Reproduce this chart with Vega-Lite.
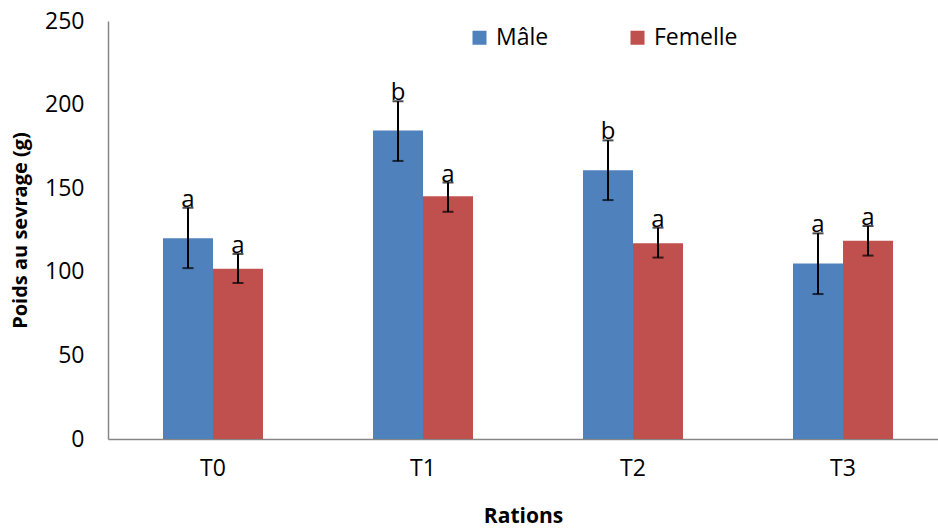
{
  "$schema": "https://vega.github.io/schema/vega-lite/v6.json",
  "width": 830,
  "height": 418,
  "autosize": {"type": "none"},
  "padding": {"left": 108, "top": 21, "right": 0, "bottom": 89},
  "config": {
    "font": "Open Sans",
    "view": {"stroke": null},
    "axis": {"domainColor": "#868686", "domainWidth": 1.5, "ticks": false, "grid": false, "labelColor": "#000000", "titleColor": "#000000", "labelFont": "Open Sans", "titleFont": "Open Sans"}
  },
  "data": {
    "values": [
      {"ration": "T0", "sexe": "Mâle", "poids": 120.1, "low": 102.2, "high": 138.3, "lettre": "a"},
      {"ration": "T0", "sexe": "Femelle", "poids": 101.8, "low": 93.3, "high": 110.7, "lettre": "a"},
      {"ration": "T1", "sexe": "Mâle", "poids": 184.5, "low": 166.3, "high": 202.0, "lettre": "b"},
      {"ration": "T1", "sexe": "Femelle", "poids": 145.2, "low": 135.9, "high": 153.4, "lettre": "a"},
      {"ration": "T2", "sexe": "Mâle", "poids": 160.7, "low": 142.9, "high": 178.6, "lettre": "b"},
      {"ration": "T2", "sexe": "Femelle", "poids": 117.1, "low": 108.5, "high": 126.4, "lettre": "a"},
      {"ration": "T3", "sexe": "Mâle", "poids": 105.0, "low": 86.7, "high": 123.0, "lettre": "a"},
      {"ration": "T3", "sexe": "Femelle", "poids": 118.5, "low": 109.7, "high": 127.4, "lettre": "a"}
    ]
  },
  "encoding": {
    "x": {
      "field": "ration",
      "type": "nominal",
      "scale": {"paddingInner": 0.5238, "paddingOuter": 0.238, "align": 0.55},
      "axis": {"labelAngle": 0, "labelFontSize": 23, "labelPadding": 18, "title": "Rations", "titleFontSize": 21, "titleFontWeight": "bold", "titlePadding": 25}
    },
    "xOffset": {"field": "sexe", "type": "nominal", "sort": ["Mâle", "Femelle"], "scale": {"paddingInner": 0, "paddingOuter": 0}}
  },
  "layer": [
    {
      "mark": {"type": "bar"},
      "encoding": {
        "y": {
          "field": "poids",
          "type": "quantitative",
          "scale": {"domain": [0, 250], "nice": false},
          "axis": {"values": [0, 50, 100, 150, 200, 250], "labelFontSize": 23, "labelPadding": 24, "title": "Poids au sevrage (g)", "titleFontSize": 20, "titleFontWeight": "bold", "titlePadding": 14}
        },
        "color": {
          "field": "sexe",
          "type": "nominal",
          "sort": ["Mâle", "Femelle"],
          "scale": {"domain": ["Mâle", "Femelle"], "range": ["#4F81BD", "#C0504D"]},
          "legend": {"orient": "none", "legendX": 360, "legendY": 5, "direction": "horizontal", "title": null, "symbolType": "square", "symbolSize": 196, "symbolStrokeWidth": 0, "labelFontSize": 23, "labelOffset": 5, "columnPadding": 77, "labelColor": "#000000"}
        }
      }
    },
    {
      "mark": {"type": "rule", "color": "#000000", "strokeWidth": 2},
      "encoding": {
        "y": {"field": "low", "type": "quantitative"},
        "y2": {"field": "high"}
      }
    },
    {
      "mark": {"type": "tick", "color": "#000000", "size": 11, "thickness": 2},
      "encoding": {"y": {"field": "high", "type": "quantitative"}}
    },
    {
      "mark": {"type": "tick", "color": "#000000", "size": 11, "thickness": 2},
      "encoding": {"y": {"field": "low", "type": "quantitative"}}
    },
    {
      "mark": {"type": "text", "baseline": "alphabetic", "dy": -1, "fontSize": 24, "color": "#000000"},
      "encoding": {
        "y": {"field": "high", "type": "quantitative"},
        "text": {"field": "lettre"}
      }
    }
  ]
}
